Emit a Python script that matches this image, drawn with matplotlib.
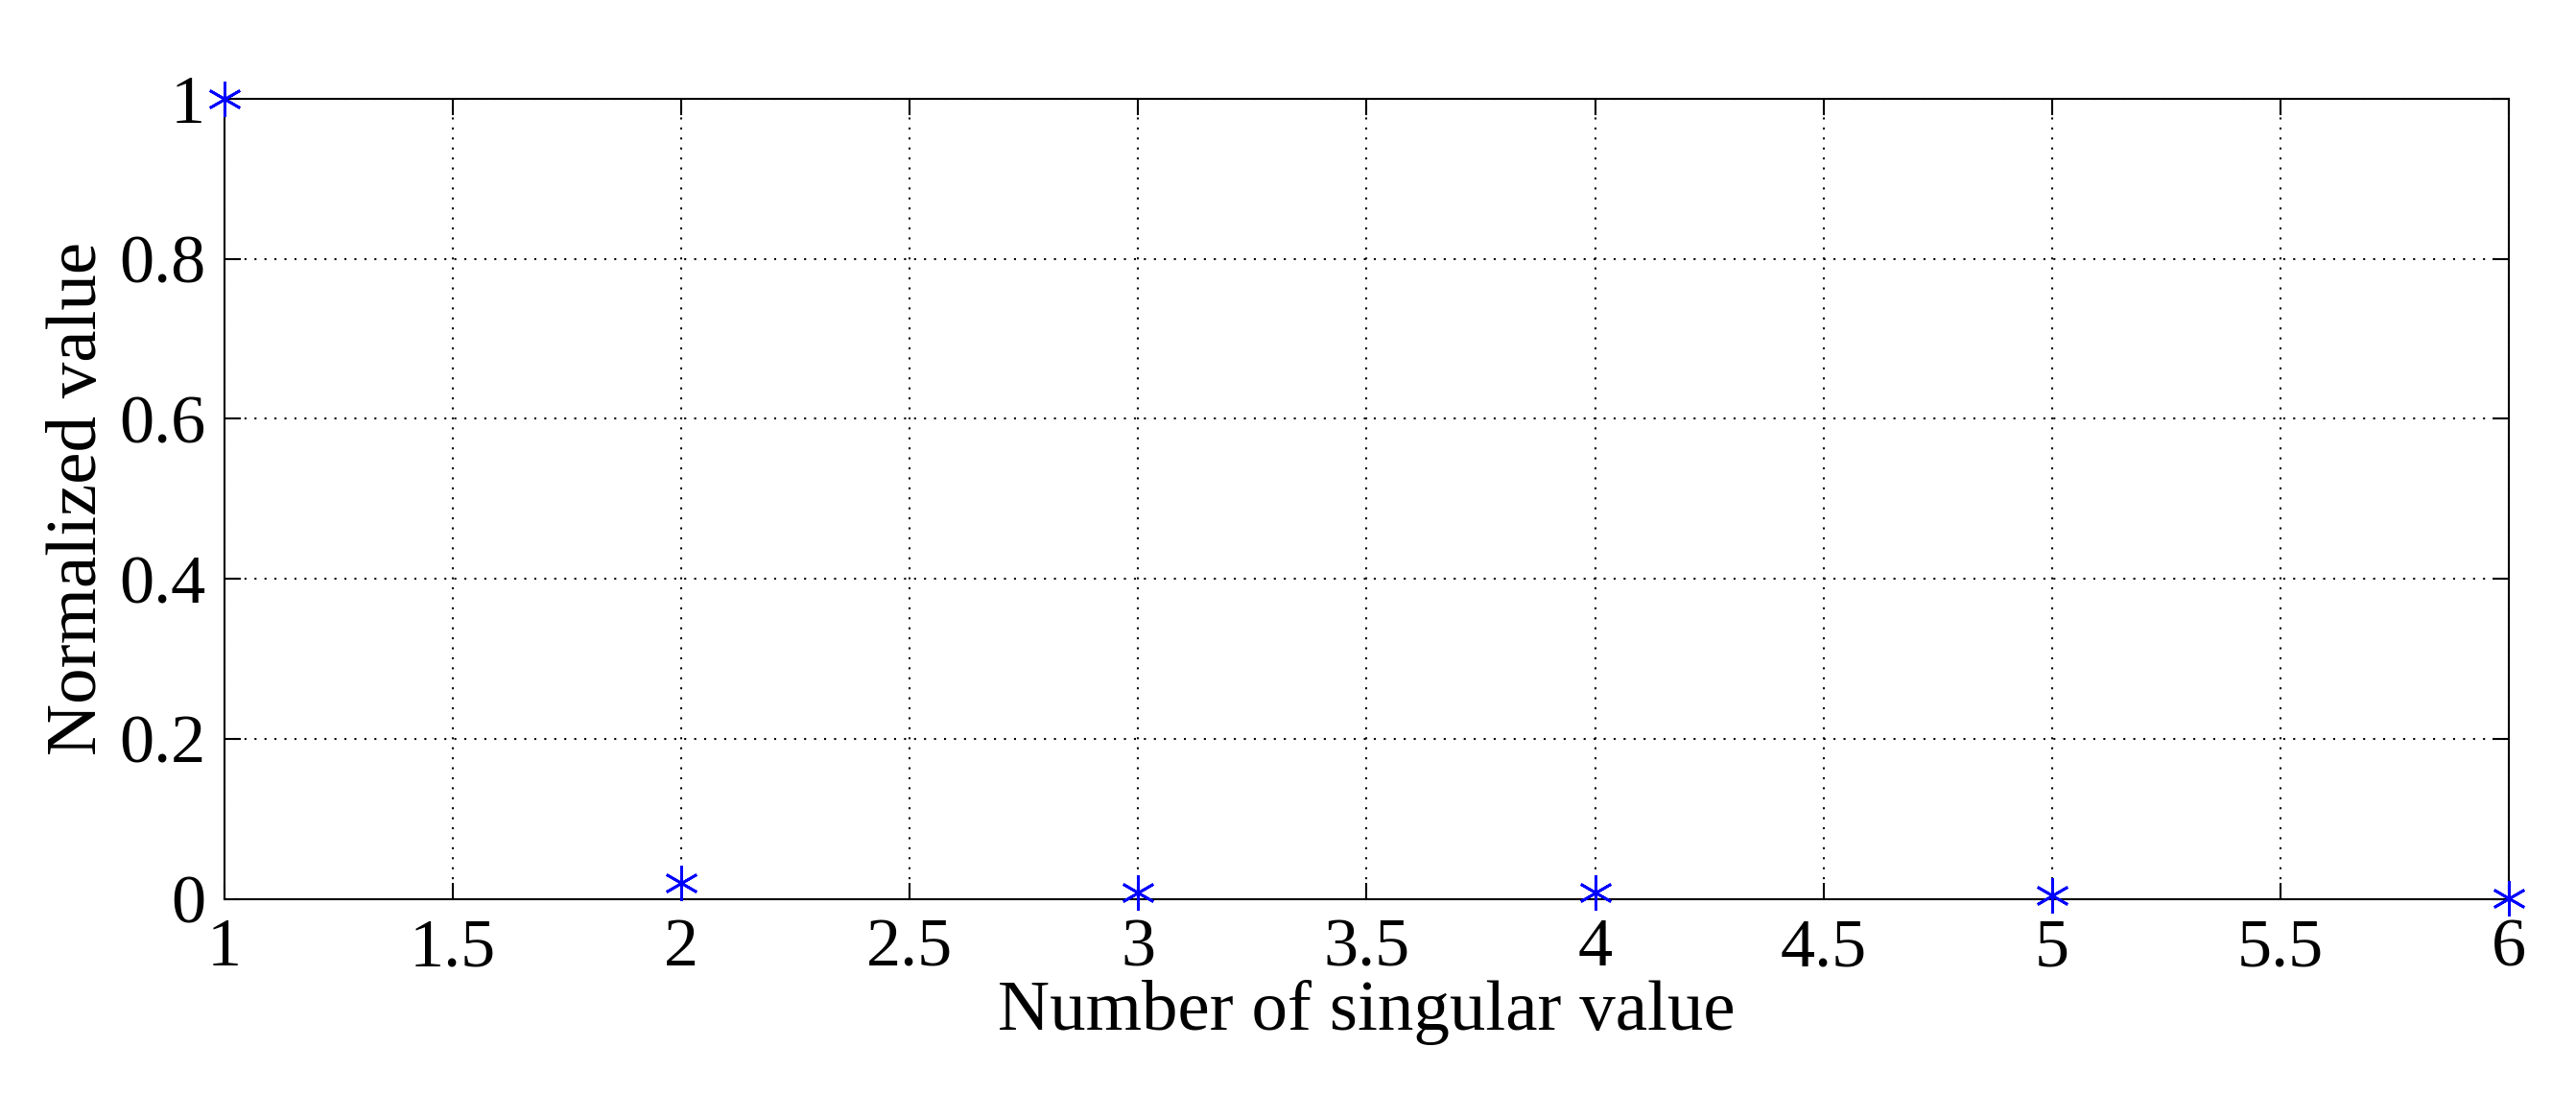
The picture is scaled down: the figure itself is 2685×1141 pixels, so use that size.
import matplotlib
matplotlib.use("Agg")
import matplotlib.pyplot as plt

x = [1, 2, 3, 4, 5, 6]
y = [1.0, 0.02, 0.008, 0.008, 0.005, 0.001]
xticks = [1, 1.5, 2, 2.5, 3, 3.5, 4, 4.5, 5, 5.5, 6]
yticks = [0, 0.2, 0.4, 0.6, 0.8, 1]

plt.rcParams['font.family'] = ['Liberation Serif']
fig = plt.figure(figsize=(26.85, 11.41), dpi=100)
ax = fig.add_axes([0.087, 0.179, 0.887, 0.731])
ax.plot(x, y, linestyle='none', marker=(6, 2, 0), color='blue', markersize=26,
        markeredgewidth=2, clip_on=False, zorder=5)
ax.set_xlim(1, 6)
ax.set_ylim(0, 1)
ax.set_xticks(xticks)
ax.set_xticklabels([f"{t:g}" for t in xticks])
ax.set_yticks(yticks)
ax.set_yticklabels([f"{t:g}" for t in yticks])
ax.grid(True, linestyle=(0, (1, 4)), color='black', linewidth=1.5)
ax.tick_params(labelsize=52, direction='in', length=12, width=1.5, top=True, right=True, pad=14)
for s in ax.spines.values():
    s.set_linewidth(1.5)
ax.set_xlabel("Number of singular value", fontsize=54, labelpad=0)
ax.set_ylabel("Normalized value", fontsize=54, labelpad=6)
fig.savefig("out.png", dpi=100)
